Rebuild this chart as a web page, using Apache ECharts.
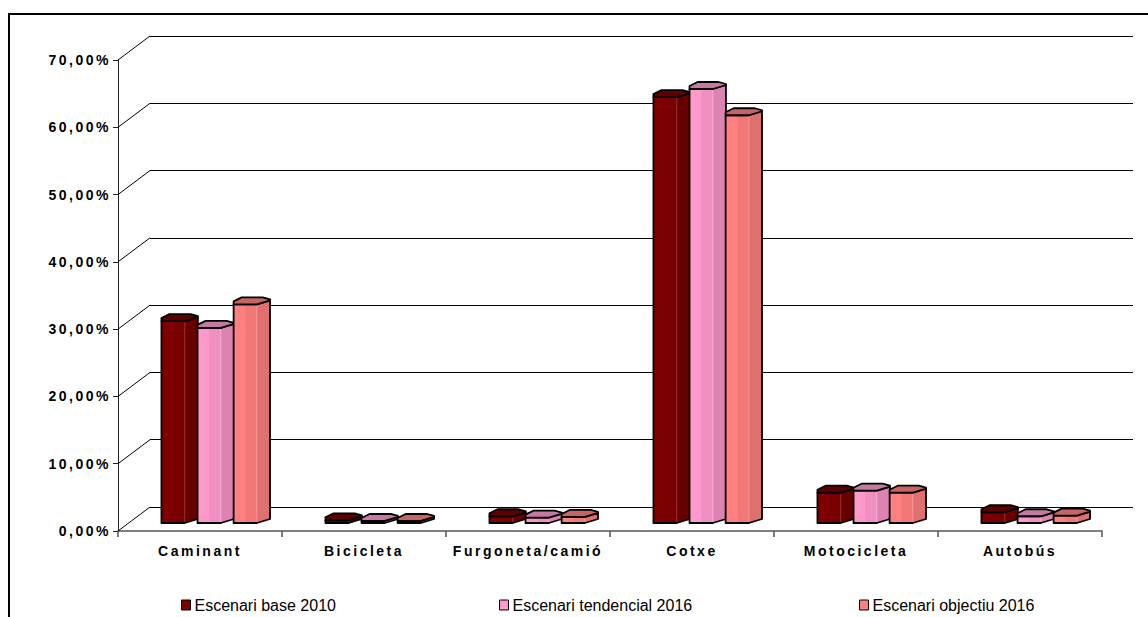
<!DOCTYPE html>
<html>
<head>
<meta charset="utf-8">
<script src="https://cdn.jsdelivr.net/npm/echarts@6/dist/echarts.min.js"></script>
<style>
  html, body { margin: 0; padding: 0; background: #fff; }
  #chart { width: 1148px; height: 617px; }
  /* spaced-out bold axis lettering */
  #chart text[style*="bold"] { letter-spacing: 2.5px; }
</style>
</head>
<body>
<div id="chart"></div>
<script>
// Mode share by scenario (percent)
const categories = ['Caminant', 'Bicicleta', 'Furgoneta/camió', 'Cotxe', 'Motocicleta', 'Autobús'];
const seriesNames = ['Escenari base 2010', 'Escenari tendencial 2016', 'Escenari objectiu 2016'];
const base2010 = [30.0, 0.4, 1.0, 63.3, 4.5, 1.6];
const tendencial2016 = [29.0, 0.3, 0.8, 64.5, 4.8, 1.0];
const objectiu2016 = [32.5, 0.3, 0.9, 60.6, 4.5, 1.1];
const yTicks = [0, 10, 20, 30, 40, 50, 60, 70];

const seriesValues = [base2010, tendencial2016, objectiu2016];

// prism shading per scenario: front, middle facet, right facet, top cap, seam
const palettes = [
  { front: '#800000', mid: '#780000', side: '#690000', cap: '#5c0000', seam: '#b05050' },
  { front: '#ff99cc', mid: '#f08fc1', side: '#dc83b2', cap: '#c47aa3', seam: '#ffc6e2' },
  { front: '#ff8080', mid: '#f27878', side: '#e06f6f', cap: '#c86464', seam: '#ffb0b0' }
];
// horizontal shift of each prism inside its category band (fraction of band)
const bandShift = [-0.235, -0.015, 0.205];
const bandWidth = 0.222;
const depthLift = 8;   // prisms stand a third of the way into the floor

const chart = echarts.init(document.getElementById('chart'), null, { renderer: 'svg' });

function pctLabel(v) {
  return v.toFixed(2).replace('.', ',') + '%';
}

function prismRenderer(k) {
  const pal = palettes[k];
  return function (params, api) {
    const i = api.value(0);
    const v = api.value(1);
    const p0 = api.coord([i, 0]);
    const p1 = api.coord([i, v]);
    const band = api.size([1, 0])[0];
    const W = band * bandWidth;
    const x0 = p0[0] + band * bandShift[k];
    const xs = x0 + W * 0.64;
    const x1 = x0 + W;
    const yb = p0[1] - depthLift;
    const yt = p1[1] - depthLift;
    const fill = new echarts.graphic.LinearGradient(0, 0, 1, 0, [
      { offset: 0, color: pal.front },
      { offset: 0.32, color: pal.front },
      { offset: 0.33, color: pal.mid },
      { offset: 0.64, color: pal.mid },
      { offset: 0.65, color: pal.side },
      { offset: 1, color: pal.side }
    ]);
    return {
      type: 'group',
      children: [
        {
          type: 'polygon',
          shape: { points: [[x0, yt], [xs, yt], [x1, yt - 4], [x1, yb - 4], [xs, yb], [x0, yb]] },
          style: { fill: fill, stroke: '#000', lineWidth: 1.8, lineJoin: 'round' }
        },
        {
          type: 'line',
          shape: { x1: xs, y1: yt + 1, x2: xs, y2: yb - 1 },
          style: { stroke: pal.seam, lineWidth: 1, opacity: 0.6 }
        },
        {
          type: 'polygon',
          shape: {
            points: [[x0, yt], [x0, yt - 3], [x0 + W * 0.22, yt - 7], [x0 + W * 0.8, yt - 7],
                     [x1, yt - 5], [x1, yt - 4], [xs, yt]]
          },
          style: { fill: pal.cap, stroke: '#000', lineWidth: 1.8, lineJoin: 'round' }
        }
      ]
    };
  };
}

const prismSeries = seriesNames.map(function (name, k) {
  return {
    name: name,
    type: 'custom',
    xAxisIndex: 0,
    yAxisIndex: 0,
    itemStyle: { color: palettes[k].front },
    renderItem: prismRenderer(k),
    encode: { x: 0, y: 1 },
    data: seriesValues[k].map(function (v, i) { return [i, v]; }),
    z: 3
  };
});

// receding lines joining the front value axis to the back wall
const wallLinks = {
  type: 'custom',
  name: 'links',
  xAxisIndex: 0,
  yAxisIndex: 0,
  silent: true,
  z: 1,
  renderItem: function (params, api) {
    const y = api.coord([0, api.value(0)])[1];
    const x = params.coordSys.x;
    return {
      type: 'line',
      shape: { x1: x, y1: y, x2: x + 32, y2: y - 24 },
      style: { stroke: '#000', lineWidth: 1 }
    };
  },
  data: yTicks.map(function (t) { return [t]; }),
  encode: { y: 0 }
};

const legendLefts = [176, 494, 854];

const option = {
  backgroundColor: '#fff',
  animation: false,
  textStyle: { fontFamily: 'Arial, "Liberation Sans", sans-serif' },
  graphic: [
    {
      type: 'rect',
      shape: { x: 9, y: 14, width: 1300, height: 800 },
      style: { fill: 'none', stroke: '#000', lineWidth: 2 },
      z: 0, silent: true
    }
  ],
  grid: [
    { left: 118, right: 46, top: 60, bottom: 86 },
    { left: 150, right: 15, top: 36, bottom: 110 }
  ],
  xAxis: [
    {
      type: 'category',
      gridIndex: 0,
      data: categories,
      axisLine: { lineStyle: { color: '#555', width: 1.5 } },
      axisTick: { show: true, length: 6, lineStyle: { color: '#555', width: 1.5 } },
      axisLabel: {
        interval: 0, margin: 13,
        color: '#000', fontSize: 14, fontWeight: 'bold',
        fontFamily: 'Arial, "Liberation Sans", sans-serif'
      },
      splitLine: { show: false }
    },
    { type: 'value', gridIndex: 1, min: 0, max: 1, show: false }
  ],
  yAxis: [
    {
      type: 'value',
      gridIndex: 0,
      min: 0, max: 70, interval: 10,
      axisLine: { show: true, lineStyle: { color: '#222', width: 1 } },
      axisTick: { show: true, length: 5, lineStyle: { color: '#222' } },
      axisLabel: {
        margin: 7,
        formatter: pctLabel,
        color: '#000', fontSize: 14, fontWeight: 'bold',
        fontFamily: 'Arial, "Liberation Sans", sans-serif'
      },
      splitLine: { show: false }
    },
    {
      type: 'value',
      gridIndex: 1,
      min: 0, max: 70, interval: 10,
      axisLine: { show: false },
      axisTick: { show: false },
      axisLabel: { show: false },
      splitLine: { show: true, lineStyle: { color: '#000', width: 1 } }
    }
  ],
  legend: seriesNames.map(function (name, k) {
    return {
      data: [name],
      left: legendLefts[k],
      top: 592,
      icon: 'rect',
      itemWidth: 9,
      itemHeight: 10,
      itemGap: 6,
      selectedMode: false,
      itemStyle: { borderColor: '#000', borderWidth: 1 },
      textStyle: { color: '#000', fontSize: 16, fontFamily: 'Arial, "Liberation Sans", sans-serif', padding: [0, 0, 0, -1] }
    };
  }),
  series: [wallLinks].concat(prismSeries)
};

chart.setOption(option);
</script>
</body>
</html>
